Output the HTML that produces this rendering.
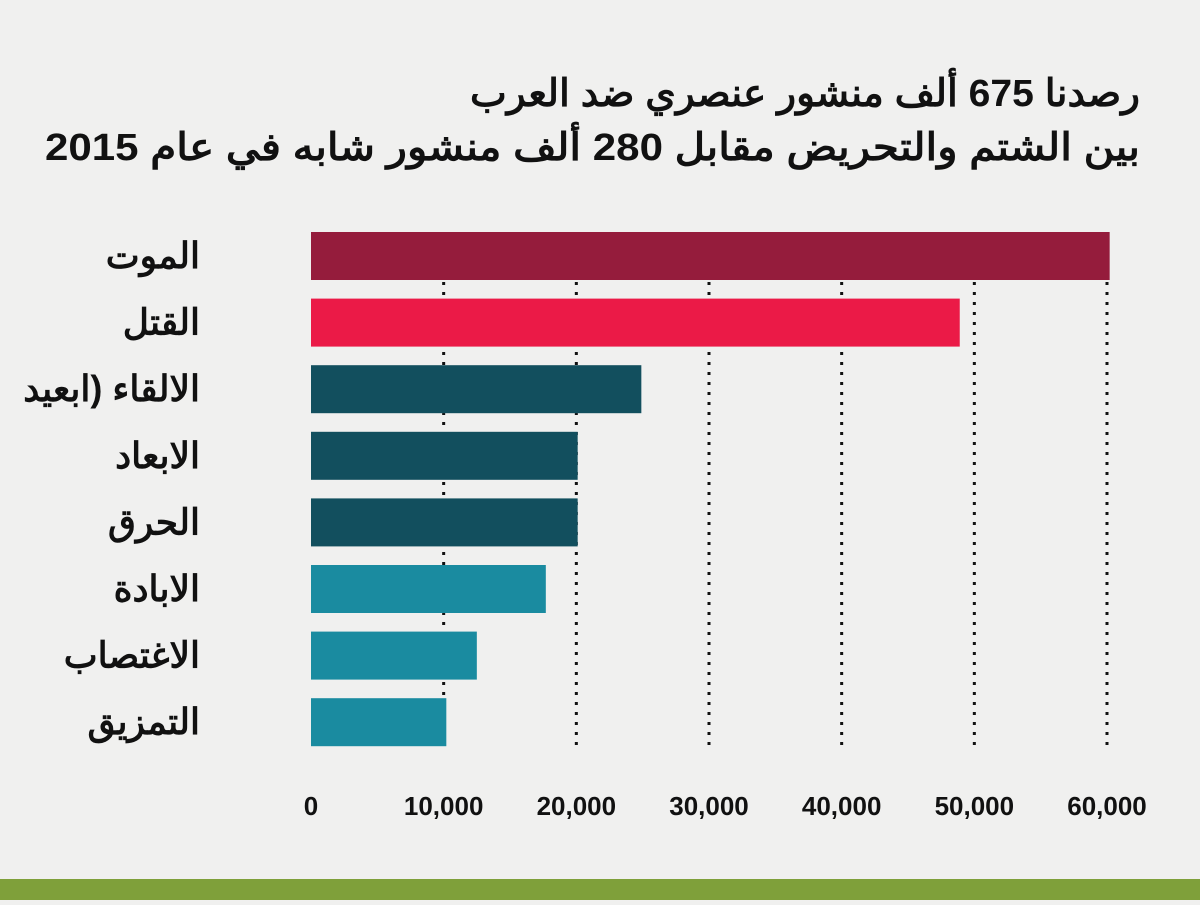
<!DOCTYPE html>
<html><head><meta charset="utf-8"><style>
body{margin:0;width:1200px;height:900px;background:#f0f0ef;overflow:hidden;font-family:"Liberation Sans","Noto Sans CJK SC",sans-serif}
</style></head><body>
<svg width="1200" height="900">
<rect x="0" y="0" width="1200" height="900" fill="#f0f0ef"/>
<rect x="0" y="879" width="1200" height="21" fill="#7fa03a"/>
<text x="1140" y="106" text-anchor="start" direction="rtl" font-size="38" font-weight="bold" fill="#111" textLength="670" lengthAdjust="spacingAndGlyphs">رصدنا 675 ألف منشور عنصري ضد العرب</text>
<text x="1140" y="160" text-anchor="start" direction="rtl" font-size="38" font-weight="bold" fill="#111" textLength="1095" lengthAdjust="spacingAndGlyphs">بين الشتم والتحريض مقابل 280 ألف منشور شابه في عام 2015</text>
<g id="grid"></g><g id="bars"></g><g id="labels"></g><g id="ticks"></g>
</svg>
<script>
const categories=["الموت","القتل","الالقاء (ابعيد","الابعاد","الحرق","الابادة","الاغتصاب","التمزيق"];
const values=[60200,48900,24900,20100,20100,17700,12500,10200];
const colors=["#951c3c","#eb1a47","#124f5e","#124f5e","#124f5e","#1a8ba0","#1a8ba0","#1a8ba0"];
const tickValues=[0,10000,20000,30000,40000,50000,60000];
const tickLabels=["0","10,000","20,000","30,000","40,000","50,000","60,000"];
const NS="http://www.w3.org/2000/svg";
const x=v=>311+v*(1107-311)/60000;
const yTop=i=>232+i*66.6;
const BH=48;
function mk(t,a,p){const e=document.createElementNS(NS,t);for(const k in a)e.setAttribute(k,a[k]);document.getElementById(p).appendChild(e);return e;}
tickValues.forEach((v,i)=>{
  if(v>0){const l=mk('line',{x1:x(v),x2:x(v),y1:232,y2:746,stroke:'#111','stroke-width':3,'stroke-dasharray':'3 7'},'grid');
  
  }
  const t=mk('text',{x:x(v),y:815,'text-anchor':'middle','font-size':26,'font-weight':'bold',fill:'#111'},'ticks');
  t.textContent=tickLabels[i];
  
  
});
categories.forEach((c,i)=>{
  const r=mk('rect',{x:x(0),y:yTop(i),width:x(values[i])-x(0),height:BH,fill:colors[i]},'bars');
  
  
  const t=mk('text',{x:200,y:yTop(i)+BH/2+12,'text-anchor':'start',direction:'rtl','font-size':36,'font-weight':'bold',fill:'#111'},'labels');
  t.textContent=c;
  
  
});
</script>
</body></html>
